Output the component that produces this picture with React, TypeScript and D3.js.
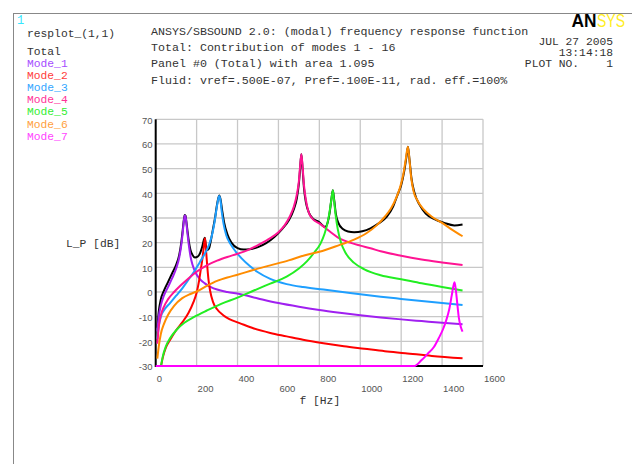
import React from 'react';
import * as d3 from 'd3';

type Pt = [number, number];

const xTicks: number[] = [0, 200, 400, 600, 800, 1000, 1200, 1400, 1600];
const yTicks: number[] = [-30, -20, -10, 0, 10, 20, 30, 40, 50, 60, 70];

const titleLines: string[] = [
  'ANSYS/SBSOUND 2.0: (modal) frequency response function',
  'Total: Contribution of modes 1 - 16',
  'Panel #0 (Total) with area 1.095',
  'Fluid: vref=.500E-07, Pref=.100E-11, rad. eff.=100%',
];
const stampLines: string[] = ['JUL 27 2005', '13:14:18', 'PLOT NO.    1'];

const totalData: Pt[] = [[8,-14.5],[15,-8],[25,-3],[40,0.5],[60,4],[80,7.5],[100,11],[115,15],[125,20],[132,25],[138,29.5],[142,31.2],[146,30.8],[150,28.5],[155,25],[162,20.5],[170,17],[180,15],[192,14],[205,14.3],[218,16],[228,18.5],[235,21],[240,22],[245,19],[252,17],[260,17.5],[270,21],[280,25.5],[290,30],[298,34.5],[305,37.7],[311,39.1],[317,37.5],[325,33],[335,28],[350,23.5],[370,20],[400,17.8],[430,17.2],[460,17.3],[500,18.2],[540,19.8],[580,22.3],[620,25.7],[650,29],[675,33.5],[690,38],[700,44],[706,50],[712,55.8],[718,50],[725,42],[735,36],[750,32],[770,29.6],[800,28.3],[815,27],[828,26.3],[840,28],[850,32],[858,37],[866,41.2],[873,37],[880,32],[893,28],[915,25.5],[940,24.5],[970,24.2],[1010,24.6],[1050,25.8],[1090,27.8],[1130,30.5],[1160,34.5],[1185,40],[1200,43.3],[1215,49],[1226,55],[1233,58.9],[1240,54.2],[1250,46.3],[1265,40.2],[1290,35.3],[1320,31.8],[1360,29.6],[1410,28],[1460,27],[1500,27.4]];

const mode1: Pt[] = [[8,-16],[15,-10],[25,-5.5],[40,-1.5],[60,2],[80,5.5],[100,9.5],[115,14],[125,19],[132,24],[138,29],[142,31],[146,30.5],[150,28],[155,24],[162,19],[170,14.5],[180,11],[195,7.8],[215,5.3],[240,3.5],[270,2],[300,1],[350,0],[410,-0.8],[500,-2.6],[600,-4.5],[700,-6],[800,-7.3],[900,-8.4],[1000,-9.4],[1100,-10.3],[1200,-11.1],[1300,-11.8],[1400,-12.5],[1500,-13.1]];

const mode2: Pt[] = [[26,-30],[35,-26.5],[50,-22.5],[70,-19.5],[100,-15.5],[130,-12.3],[160,-8.5],[185,-4],[200,-0.3],[212,4.5],[222,10],[230,14.5],[236,19],[241,21.8],[246,17],[252,10.5],[258,5],[266,0.5],[280,-4],[300,-7],[330,-9.4],[360,-11],[410,-12.6],[480,-14.8],[560,-16.6],[640,-18],[720,-19.4],[820,-20.8],[920,-22],[1020,-23],[1120,-24],[1220,-24.8],[1350,-25.9],[1500,-26.9]];

const mode3: Pt[] = [[8,-19],[15,-14],[25,-10],[40,-7.5],[70,-4.5],[100,-1.5],[130,1.5],[160,5],[190,8.5],[215,12],[240,15.5],[260,19],[275,23],[287,28],[297,33.5],[304,37],[310,38.9],[316,37.5],[323,32.5],[332,27.5],[345,23],[365,19.5],[390,16.5],[420,13.6],[460,10.5],[500,8],[560,5.3],[640,3.2],[720,2],[820,1],[950,-0.4],[1100,-1.9],[1200,-2.8],[1350,-4.1],[1500,-5.3]];

const mode4: Pt[] = [[8,-21],[15,-14],[25,-9.5],[40,-6],[60,-3],[90,0],[120,2.5],[160,5.5],[200,8.2],[250,10.8],[300,12.7],[350,14.2],[400,15.5],[450,17],[500,19],[550,21.3],[600,24.2],[630,27],[655,30.5],[675,34.5],[690,39.5],[700,45],[706,51],[712,55.8],[718,51],[724,44],[732,38.5],[745,33],[765,29.8],[800,27.8],[850,24.6],[900,21.6],[950,20],[1000,18.8],[1050,17.7],[1100,16.5],[1200,14.7],[1300,13.2],[1400,12],[1500,10.9]];

const mode5: Pt[] = [[26,-30],[35,-26],[50,-22],[70,-18.8],[100,-15.5],[140,-12.5],[190,-10],[250,-7.5],[320,-4.8],[400,-2.3],[480,0.6],[560,3.4],[640,6.2],[700,9.5],[740,12.5],[775,16],[805,19.5],[825,23.5],[840,28],[850,32.5],[858,37],[866,41.2],[872,37],[880,31],[890,25.5],[905,20.3],[930,15.6],[970,11.8],[1020,9.2],[1100,6.8],[1200,5.2],[1300,3.5],[1400,2],[1500,0.6]];

const mode6: Pt[] = [[8,-27],[15,-22],[25,-17],[40,-13],[60,-9.3],[90,-5.6],[130,-2.5],[170,-0.8],[200,0.2],[250,2.5],[300,4.5],[350,5.9],[400,7],[480,9],[560,10.8],[650,12.8],[730,14.9],[800,16.3],[900,19.1],[970,21.2],[1030,23.8],[1080,27],[1120,30.5],[1150,33.8],[1175,38],[1195,42.5],[1210,47.5],[1222,53.5],[1233,58.9],[1240,54],[1248,47],[1260,41],[1280,37],[1310,33.5],[1350,30.5],[1400,28],[1450,25.2],[1500,22.6]];

const mode7: Pt[] = [[0,-30],[1265,-30],[1300,-27.6],[1330,-25],[1360,-22.3],[1385,-18.5],[1405,-15],[1420,-11.5],[1435,-7],[1447,-1.5],[1455,2.3],[1461,3.9],[1467,1],[1474,-4.5],[1482,-10.5],[1492,-14.3],[1500,-16.1]];

const legendNames: string[] = ['Total', 'Mode_1', 'Mode_2', 'Mode_3', 'Mode_4', 'Mode_5', 'Mode_6', 'Mode_7'];
const lineColors: string[] = ['#000000', '#a020f0', '#ff0000', '#1e9fff', '#ff1493', '#22ee22', '#ff8c00', '#ff00ff'];
const legendColors: string[] = ['#333333', '#a64dff', '#ff3b3b', '#33a6ff', '#ff3399', '#33ee33', '#ffa040', '#ff44ff'];
const seriesData: Pt[][] = [totalData, mode1, mode2, mode3, mode4, mode5, mode6, mode7];

const MONO = '"Liberation Mono", "DejaVu Sans Mono", monospace';
const SANS = '"Liberation Sans", Arial, sans-serif';

export default function App() {
  const x = d3.scaleLinear().domain([0, 1600]).range([155.7, 483]);
  const y = d3.scaleLinear().domain([-30, 70]).range([366, 119.3]);
  const line = d3
    .line<Pt>()
    .x((d) => x(d[0]))
    .y((d) => y(d[1]))
    .curve(d3.curveMonotoneX);

  return (
    <svg
      width={632}
      height={464}
      style={{ position: 'fixed', left: 0, top: 0, background: '#fff' }}
    >
      <rect x={0} y={0} width={632} height={464} fill="#fff" />
      {/* outer frame */}
      <line x1={13} y1={13.5} x2={632} y2={13.5} stroke="#888" strokeWidth={1} />
      <line x1={13.5} y1={13} x2={13.5} y2={464} stroke="#888" strokeWidth={1} />

      {/* header texts */}
      <text x={17} y={20} dy="0.35em" fill="#33e6ff" fontFamily={MONO} fontSize={12}>1</text>
      <text x={27} y={33} dy="0.35em" fill="#333" fontFamily={MONO} fontSize={11.3}>resplot_(1,1)</text>
      {legendNames.map((n, i) => (
        <text key={n} x={27} y={51 + i * 12.1} dy="0.35em" fill={legendColors[i]} fontFamily={MONO} fontSize={11.3}>
          {n}
        </text>
      ))}
      {titleLines.map((t, i) => (
        <text key={t} x={151} y={30.7 + i * 16.3} dy="0.35em" fill="#333" fontFamily={MONO} fontSize={11.65}>
          {t}
        </text>
      ))}
      {stampLines.map((t, i) => (
        <text key={t} x={613} y={[40.7, 51.7, 63.3][i]} dy="0.35em" textAnchor="end" fill="#333" fontFamily={MONO} fontSize={11.3} style={{ whiteSpace: 'pre' }}>
          {t}
        </text>
      ))}
      <text x={571.5} y={26.5} fill="#000" fontFamily={SANS} fontWeight={900} fontSize={18} textLength={25} lengthAdjust="spacingAndGlyphs">AN</text>
      <text x={597} y={26.5} fill="#ffee22" fontFamily={SANS} fontSize={18} textLength={28} lengthAdjust="spacingAndGlyphs">SYS</text>

      {/* grid */}
      {xTicks.slice(1).map((t) => (
        <line key={'gx' + t} x1={x(t)} x2={x(t)} y1={y(70)} y2={y(-30)} stroke="#c8c8c8" strokeWidth={1.3} />
      ))}
      {yTicks.slice(1).map((t) => (
        <line key={'gy' + t} x1={x(0)} x2={x(1600)} y1={y(t)} y2={y(t)} stroke="#c8c8c8" strokeWidth={1.3} />
      ))}

      {/* axes */}
      <line x1={x(0)} x2={x(0)} y1={y(70)} y2={y(-30) + 1} stroke="#000" strokeWidth={2} />
      <line x1={x(0)} x2={x(1600)} y1={y(-30)} y2={y(-30)} stroke="#000" strokeWidth={2} />

      {/* tick labels */}
      {yTicks.map((t) => (
        <text key={'yl' + t} x={152.5} y={y(t) + 1} dy="0.35em" textAnchor="end" fill="#555" fontFamily={SANS} fontSize={9.5}>
          {t}
        </text>
      ))}
      {xTicks.map((t, i) => (
        <text key={'xl' + t} x={x(t) + 1} y={i % 2 === 0 ? 378.3 : 388.8} dy="0.35em" fill="#555" fontFamily={SANS} fontSize={9.5}>
          {t}
        </text>
      ))}

      {/* axis titles */}
      <text x={66} y={243} dy="0.35em" fill="#333" fontFamily={MONO} fontSize={11.3}>L_P [dB]</text>
      <text x={299.5} y={400} dy="0.35em" fill="#333" fontFamily={MONO} fontSize={11.3}>f [Hz]</text>

      {/* curves */}
      {seriesData.map((d, i) => (
        <path key={'s' + i} d={line(d) || ''} fill="none" stroke={lineColors[i]} strokeWidth={2} strokeLinejoin="round" />
      ))}
    </svg>
  );
}
